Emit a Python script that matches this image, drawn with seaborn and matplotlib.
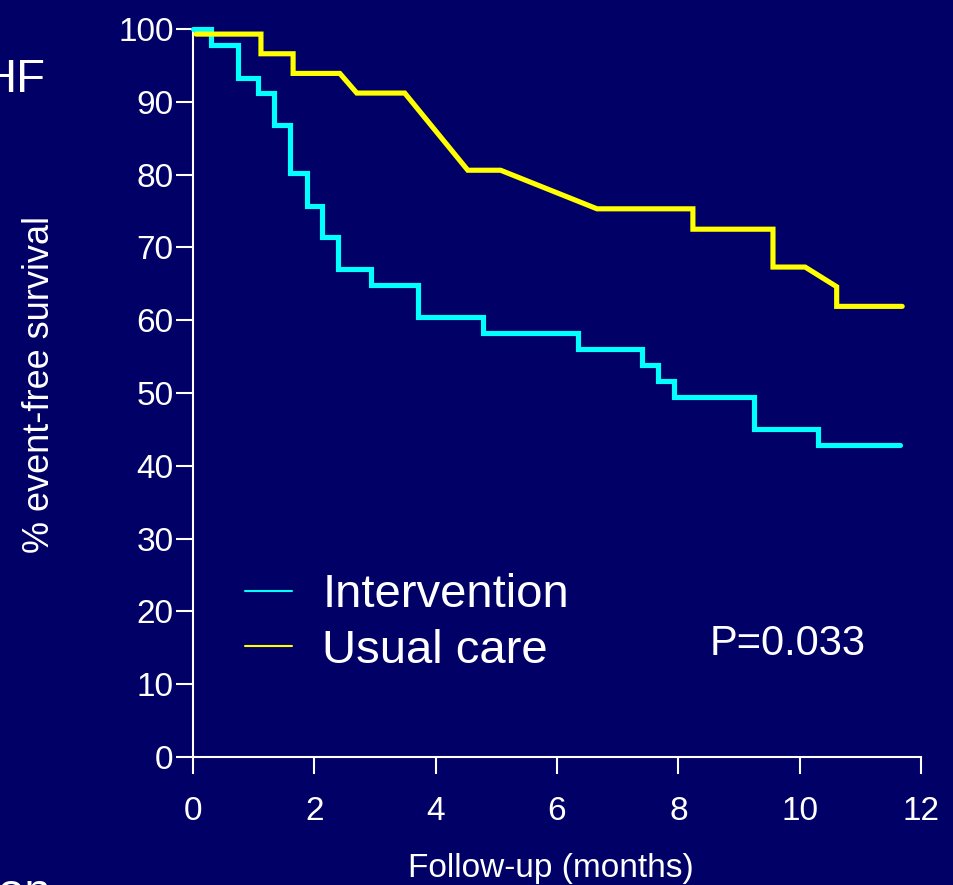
import matplotlib
matplotlib.use("Agg")
import matplotlib.pyplot as plt
import seaborn as sns
import pandas as pd
from matplotlib.lines import Line2D

# Intervention arm: Kaplan-Meier step times (months) and % event-free after each step
intervention_months = [0, 0.30, 0.74, 1.07, 1.34, 1.60, 1.88, 2.13, 2.39, 2.93,
                       3.71, 4.78, 6.35, 7.40, 7.67, 7.93, 9.25, 10.30, 11.65]
intervention_pct = [100, 97.8, 93.3, 91.2, 86.8, 80.2, 75.7, 71.4, 67.0, 64.8,
                    60.4, 58.2, 56.0, 53.8, 51.6, 49.5, 45.0, 42.9, 42.9]

# Usual care arm: curve vertices as drawn on the slide
usual_months = [0.05, 1.12, 1.12, 1.65, 1.65, 2.42, 2.70, 3.49, 4.53, 5.07,
                6.66, 8.24, 8.24, 9.56, 9.56, 10.09, 10.61, 10.61, 11.69]
usual_pct = [99.3, 99.3, 96.6, 96.6, 93.9, 93.9, 91.2, 91.2, 80.6, 80.6,
             75.3, 75.3, 72.5, 72.5, 67.3, 67.3, 64.6, 61.9, 61.9]

x_ticks = [0, 2, 4, 6, 8, 10, 12]
y_ticks = [0, 10, 20, 30, 40, 50, 60, 70, 80, 90, 100]
group_labels = ["Intervention", "Usual care"]
group_colors = ["#00FFFF", "#FFFF00"]
p_value_text = "P=0.033"

bg = "#000066"

sns.set_theme(style="ticks")
plt.rcParams["font.family"] = ["Liberation Sans", "DejaVu Sans"]

fig = plt.figure(figsize=(9.54, 8.85), dpi=100, facecolor=bg)
ax = fig.add_axes([193 / 954, 1 - 757 / 885, 728 / 954, 728 / 885])
ax.set_facecolor(bg)

interv_df = pd.DataFrame({"months": intervention_months, "pct": intervention_pct})
usual_df = pd.DataFrame({"months": usual_months, "pct": usual_pct})

sns.lineplot(data=interv_df, x="months", y="pct", ax=ax, color=group_colors[0],
             lw=3.7, drawstyle="steps-post", sort=False, estimator=None,
             clip_on=False, solid_capstyle="round", solid_joinstyle="miter", zorder=3)
sns.lineplot(data=usual_df, x="months", y="pct", ax=ax, color=group_colors[1],
             lw=3.7, sort=False, estimator=None,
             clip_on=False, solid_capstyle="round", solid_joinstyle="miter", zorder=4)

ax.set_xlim(0, 12)
ax.set_ylim(0, 100)
ax.set_xticks(x_ticks)
ax.set_yticks(y_ticks)

for side in ["top", "right"]:
    ax.spines[side].set_visible(False)
for side in ["left", "bottom"]:
    ax.spines[side].set_color("white")
    ax.spines[side].set_linewidth(1.5)

ax.tick_params(axis="both", direction="out", length=12, width=1.5,
               colors="white", labelsize=24)
ax.tick_params(axis="x", pad=16)
ax.tick_params(axis="y", pad=2)

ax.set_xlabel("Follow-up (months)", fontsize=24, color="white")
ax.set_ylabel("% event-free survival", fontsize=26, color="white")
ax.xaxis.set_label_coords(0.492, -0.132)
ax.yaxis.set_label_coords(-0.187, 0.511)

handles = [Line2D([], [], color=c, lw=1.5) for c in group_colors]
ax.legend(handles, group_labels, loc="center left", bbox_to_anchor=(0.0714, 0.184),
          frameon=False, fontsize=34, labelcolor="white", handlelength=1.0,
          handletextpad=0.64, labelspacing=0.25, borderpad=0, borderaxespad=0)

ax.text(0.710, 0.155, p_value_text, transform=ax.transAxes, fontsize=30,
        color="white", ha="left", va="center")

# fragments of the surrounding slide text
fig.text(45 / 954, 1 - 80 / 885, "HF", fontsize=34, color="white",
         ha="right", va="center")
fig.text(-2 / 954, 1 - 906 / 885, "on", fontsize=34, color="white",
         ha="left", va="baseline")

fig.savefig("out.png", dpi=100, facecolor=bg)
